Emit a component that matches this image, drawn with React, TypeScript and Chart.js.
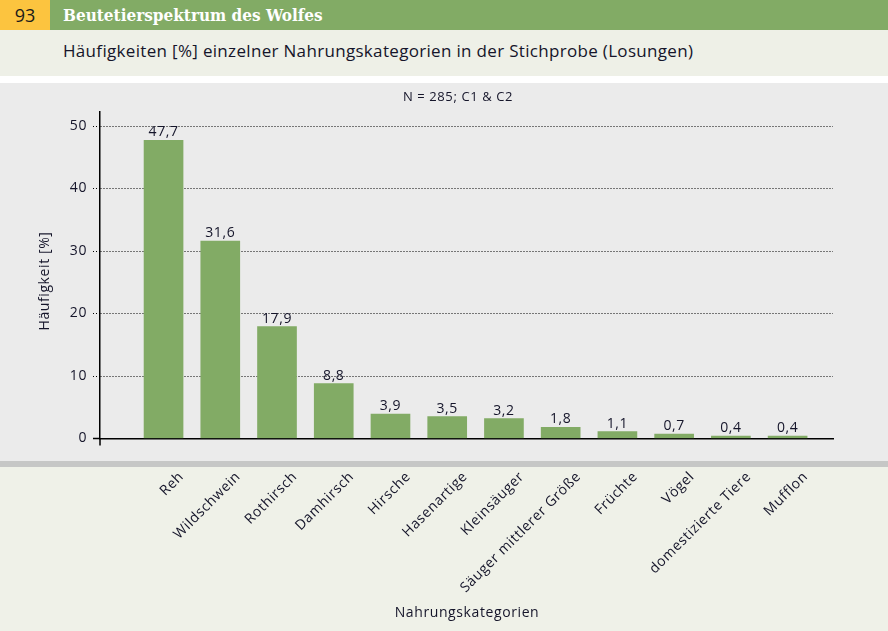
import React, { useEffect, useRef } from "react";
import { Chart, registerables } from "chart.js";

Chart.register(...registerables);

const categories: string[] = [
  "Reh",
  "Wildschwein",
  "Rothirsch",
  "Damhirsch",
  "Hirsche",
  "Hasenartige",
  "Kleinsäuger",
  "Säuger mittlerer Größe",
  "Früchte",
  "Vögel",
  "domestizierte Tiere",
  "Mufflon",
];
const values: number[] = [47.7, 31.6, 17.9, 8.8, 3.9, 3.5, 3.2, 1.8, 1.1, 0.7, 0.4, 0.4];
const yTicks: number[] = [0, 10, 20, 30, 40, 50];

const chapterNumber = "93";
const headerTitle = "Beutetierspektrum des Wolfes";
const subTitle = "Häufigkeiten [%] einzelner Nahrungskategorien in der Stichprobe (Losungen)";
const sampleNote = "N = 285; C1 & C2";
const yTitle = "Häufigkeit [%]";
const xTitle = "Nahrungskategorien";

const FONT = "'Open Sans', 'Noto Sans', sans-serif";
const TEXT = "#15152a";
const GREEN = "#82ab65";

const fmt = (v: number) => v.toFixed(1).replace(".", ",");

const spacingPlugin = {
  id: "spacing",
  beforeInit(chart: any) {
    (chart.ctx as any).letterSpacing = "0.6px";
  },
  beforeDraw(chart: any) {
    (chart.ctx as any).letterSpacing = "0.6px";
  },
};

const overlayPlugin = {
  id: "overlay",
  afterDraw(chart: any) {
    const ctx = chart.ctx as CanvasRenderingContext2D;
    const ca = chart.chartArea;
    const ys = chart.scales.y;
    const y0 = ys.getPixelForValue(0);
    ctx.save();
    (ctx as any).letterSpacing = "0.6px";
    // axis extensions
    ctx.strokeStyle = "#000";
    ctx.lineWidth = 1.5;
    ctx.beginPath();
    ctx.moveTo(ca.left - 7, y0);
    ctx.lineTo(ca.left, y0);
    ctx.moveTo(ca.left, ca.bottom);
    ctx.lineTo(ca.left, ca.bottom + 7);
    ctx.stroke();

    // value labels
    ctx.fillStyle = TEXT;
    ctx.font = `14px ${FONT}`;
    ctx.textAlign = "center";
    ctx.textBaseline = "alphabetic";
    const meta = chart.getDatasetMeta(0);
    meta.data.forEach((bar: any, i: number) => {
      ctx.fillText(fmt(values[i]), bar.x, bar.y - 4);
    });

    // sample note
    ctx.font = `13px ${FONT}`;
    ctx.textBaseline = "middle";
    ctx.fillText(sampleNote, 458, 14);

    // x title
    ctx.font = `14px ${FONT}`;
    ctx.fillText(xTitle, 467, 530);

    // y title
    ctx.translate(45, 198);
    ctx.rotate(-Math.PI / 2);
    ctx.fillText(yTitle, 0, 0);
    ctx.restore();
  },
};

function ChartView() {
  const ref = useRef<HTMLCanvasElement | null>(null);
  useEffect(() => {
    if (!ref.current) return;
    const chart = new Chart(ref.current, {
      type: "bar",
      data: {
        datasets: [
          {
            data: values.map((v, i) => ({ x: i, y: v })),
            backgroundColor: GREEN,
            barThickness: 39,
            borderWidth: 0,
          },
        ],
      },
      options: {
        animation: false,
        responsive: false,
        devicePixelRatio: 1,
        layout: { padding: { top: 29, right: 55, left: 0, bottom: 0 } },
        plugins: { legend: { display: false }, tooltip: { enabled: false }, title: { display: false } },
        scales: {
          x: {
            type: "linear",
            offset: false,
            min: -1.12,
            max: 11.8,
            afterBuildTicks: (scale: any) => {
              scale.ticks = categories.map((_, i) => ({ value: i }));
            },
            afterFit: (scale: any) => {
              scale.height = 192.5;
            },
            grid: { display: false, drawTicks: false, offset: false },
            border: { display: true, color: "#000", width: 1.5 },
            ticks: {
              autoSkip: false,
              minRotation: 45,
              maxRotation: 45,
              padding: 30,
              labelOffset: 18,
              color: TEXT,
              font: { family: FONT, size: 14 },
              callback: (v: any) => categories[Math.round(Number(v))] ?? "",
            },
          },
          y: {
            min: 0,
            max: 52.24,
            afterBuildTicks: (scale: any) => {
              scale.ticks = yTicks.map((v) => ({ value: v }));
            },
            afterFit: (scale: any) => {
              scale.width = 100;
            },
            grid: {
              color: "#000",
              lineWidth: 1,
              tickLength: 7,
              tickBorderDash: [1, 2],
            },
            border: { display: true, color: "#000", width: 1.5, dash: [1, 2] },
            ticks: {
              padding: 6,
              color: TEXT,
              font: { family: FONT, size: 14 },
              callback: (v: any) => String(v),
            },
          },
        },
      },
      plugins: [spacingPlugin, overlayPlugin],
    });
    return () => chart.destroy();
  }, []);
  return <canvas ref={ref} width={888} height={548} style={{ display: "block" }} />;
}

export default function App() {
  useEffect(() => {
    document.body.style.margin = "0";
  }, []);
  return (
    <div style={{ position: "relative", width: 888, height: 631, background: "#fff", overflow: "hidden" }}>
      <div style={{ position: "absolute", left: 0, top: 0, width: 888, height: 30, background: GREEN }} />
      <div
        style={{
          position: "absolute",
          left: 0,
          top: 0,
          width: 50,
          height: 30,
          background: "#fcc43f",
          color: "#1a1a1a",
          fontFamily: FONT,
          fontSize: 18,
          lineHeight: "30px",
          textAlign: "center",
        }}
      >
        {chapterNumber}
      </div>
      <div
        style={{
          position: "absolute",
          left: 63,
          top: 0,
          height: 30,
          lineHeight: "30px",
          color: "#fff",
          fontFamily: "'DejaVu Serif Condensed', 'DejaVu Serif', serif",
          fontWeight: "bold",
          fontSize: 17,
          whiteSpace: "nowrap",
        }}
      >
        {headerTitle}
      </div>
      <div style={{ position: "absolute", left: 0, top: 30, width: 888, height: 46, background: "#eef0e7" }} />
      <div
        style={{
          position: "absolute",
          left: 63,
          top: 38,
          lineHeight: "26px",
          color: TEXT,
          fontFamily: FONT,
          fontSize: 17,
          letterSpacing: "0.32px",
          whiteSpace: "nowrap",
        }}
      >
        {subTitle}
      </div>
      <div
        style={{
          position: "absolute",
          left: 0,
          top: 83,
          width: 888,
          height: 548,
          background:
            "linear-gradient(to bottom, #ebebeb 0px, #ebebeb 378px, #c6c7c6 378px, #c6c7c6 384px, #eff1e8 384px, #eff1e8 548px)",
        }}
      >
        <ChartView />
      </div>
    </div>
  );
}
